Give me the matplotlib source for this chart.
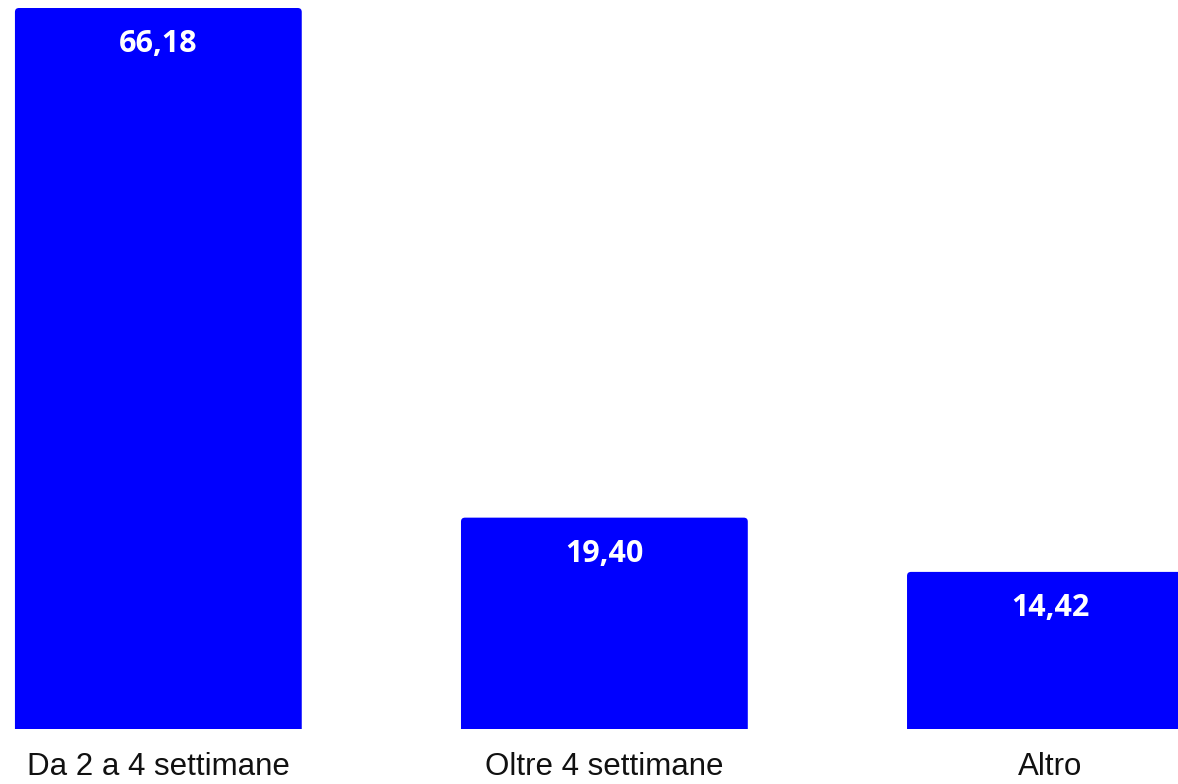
import matplotlib
matplotlib.use("Agg")
import matplotlib.pyplot as plt
import matplotlib.transforms as mtransforms
from matplotlib.patches import FancyBboxPatch

categories = ["Da 2 a 4 settimane", "Oltre 4 settimane", "Altro"]
values = [66.18, 19.40, 14.42]
labels = ["66,18", "19,40", "14,42"]
color = "#0000FF"

fig = plt.figure(figsize=(11.78, 7.84), dpi=100)
ax = fig.add_axes([0, 55/784, 1, 1 - 55/784])
x = list(range(len(values)))
width = 0.643
bars = ax.bar(x, values, width=width, color=color)
ax.set_xlim(-0.355, 2.286)
ax.set_ylim(0, 66.18 * 729 / 721)

# replace with rounded-top patches
for b in bars:
    b.set_visible(False)
    x0, w, h = b.get_x(), b.get_width(), b.get_height()
    p = FancyBboxPatch((x0, -2), w, h + 2,
                       boxstyle="round,pad=0,rounding_size=0.009",
                       mutation_aspect=40.8, fc=color, ec="none",
                       clip_on=True)
    ax.add_patch(p)
    p.set_clip_path(ax.patch)

for xi, v, lab in zip(x, values, labels):
    ax.annotate(lab, (xi, v), xytext=(0, -31.7), textcoords="offset points",
                ha="center", va="baseline", color="white", fontsize=22,
                fontweight="bold", family=["Open Sans", "DejaVu Sans"])

trans = mtransforms.blended_transform_factory(ax.transData, ax.transAxes)
for xi, cat in zip(x, categories):
    ax.text(xi, -46/729, cat, transform=trans, ha="center", va="baseline",
            fontsize=22.5, family=["Liberation Sans", "DejaVu Sans"],
            color="#111111", clip_on=False)

ax.set_xticks([])
ax.set_yticks([])
for s in ax.spines.values():
    s.set_visible(False)

fig.savefig("out.png", dpi=100)
